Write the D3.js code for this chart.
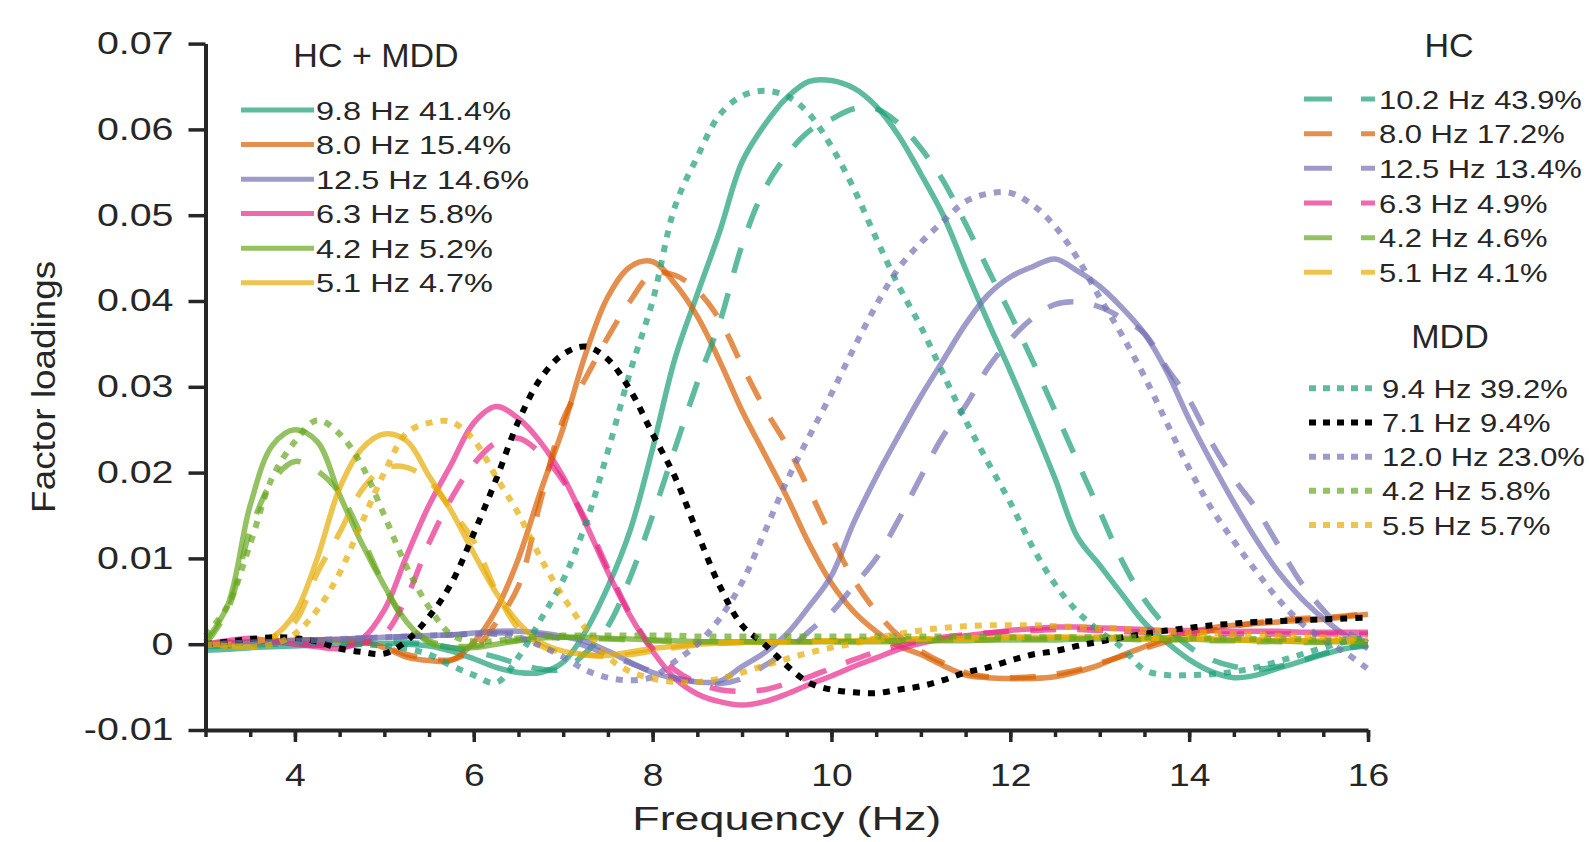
<!DOCTYPE html>
<html>
<head>
<meta charset="utf-8">
<script src="https://cdn.jsdelivr.net/npm/d3@7"></script>
<style>
body { margin: 0; background: #fff; }
text { font-family: "Liberation Sans", Arial, sans-serif; fill: #262626; }
</style>
</head>
<body>
<div id="chart"></div>
<script>
// frequency grid (Hz)
var freq = [3.00,3.25,3.50,3.75,4.00,4.25,4.50,4.75,5.00,5.25,5.50,5.75,6.00,6.25,6.50,6.75,7.00,7.25,7.50,7.75,8.00,8.25,8.50,8.75,9.00,9.25,9.50,9.75,10.00,10.25,10.50,10.75,11.00,11.25,11.50,11.75,12.00,12.25,12.50,12.75,13.00,13.25,13.50,13.75,14.00,14.25,14.50,14.75,15.00,15.25,15.50,15.75,16.00];

// HC + MDD (solid)
var all98 = [-0.0007,-0.0006,-0.0004,-0.0003,-0.0002,-0.0001,0.0000,0.0001,0.0001,0.0000,-0.0002,-0.0008,-0.0017,-0.0027,-0.0033,-0.0033,-0.0021,0.0015,0.0067,0.0133,0.0228,0.0333,0.0408,0.0481,0.0562,0.0605,0.0637,0.0656,0.0657,0.0648,0.0627,0.0593,0.0548,0.0500,0.0437,0.0376,0.0318,0.0257,0.0193,0.0125,0.0092,0.0058,0.0025,0.0002,-0.0018,-0.0032,-0.0039,-0.0036,-0.0028,-0.0020,-0.0012,-0.0005,-0.0002];
var all80 = [0.0000,0.0002,0.0003,0.0004,0.0005,0.0005,0.0005,0.0003,-0.0004,-0.0015,-0.0019,-0.0019,0.0002,0.0040,0.0100,0.0179,0.0252,0.0338,0.0405,0.0440,0.0446,0.0420,0.0382,0.0330,0.0272,0.0222,0.0172,0.0117,0.0071,0.0038,0.0015,-0.0002,-0.0012,-0.0025,-0.0036,-0.0039,-0.0040,-0.0040,-0.0038,-0.0032,-0.0024,-0.0013,-0.0003,0.0007,0.0014,0.0019,0.0022,0.0024,0.0026,0.0028,0.0029,0.0032,0.0035];
var all125 = [0.0000,0.0001,0.0002,0.0003,0.0004,0.0005,0.0006,0.0007,0.0008,0.0009,0.0010,0.0011,0.0013,0.0015,0.0015,0.0013,0.0009,0.0003,-0.0008,-0.0021,-0.0033,-0.0040,-0.0044,-0.0043,-0.0026,-0.0010,0.0012,0.0044,0.0080,0.0142,0.0195,0.0243,0.0289,0.0331,0.0373,0.0407,0.0428,0.0440,0.0449,0.0435,0.0417,0.0392,0.0362,0.0318,0.0262,0.0212,0.0165,0.0122,0.0084,0.0054,0.0030,0.0010,-0.0005];
var all63 = [0.0000,0.0004,0.0007,0.0003,0.0000,-0.0003,-0.0005,0.0006,0.0040,0.0103,0.0162,0.0210,0.0258,0.0277,0.0263,0.0235,0.0195,0.0141,0.0084,0.0033,-0.0008,-0.0040,-0.0058,-0.0067,-0.0071,-0.0067,-0.0058,-0.0047,-0.0037,-0.0026,-0.0016,-0.0006,0.0001,0.0006,0.0010,0.0013,0.0016,0.0018,0.0020,0.0020,0.0019,0.0018,0.0017,0.0016,0.0016,0.0016,0.0015,0.0015,0.0015,0.0014,0.0014,0.0014,0.0014];
var all42 = [0.0003,0.0046,0.0162,0.0232,0.0250,0.0236,0.0174,0.0117,0.0068,0.0026,0.0002,-0.0004,-0.0004,0.0000,0.0004,0.0007,0.0008,0.0008,0.0007,0.0006,0.0005,0.0004,0.0003,0.0003,0.0003,0.0003,0.0003,0.0003,0.0003,0.0003,0.0003,0.0003,0.0004,0.0004,0.0004,0.0005,0.0005,0.0005,0.0005,0.0006,0.0006,0.0006,0.0006,0.0006,0.0006,0.0005,0.0005,0.0004,0.0004,0.0003,0.0003,0.0003,0.0003];
var all51 = [0.0000,-0.0002,-0.0003,0.0008,0.0036,0.0100,0.0182,0.0228,0.0245,0.0237,0.0196,0.0155,0.0106,0.0060,0.0025,0.0002,-0.0008,-0.0012,-0.0013,-0.0009,-0.0005,-0.0002,0.0000,0.0001,0.0002,0.0002,0.0003,0.0003,0.0004,0.0004,0.0005,0.0005,0.0006,0.0006,0.0007,0.0007,0.0008,0.0008,0.0008,0.0008,0.0008,0.0008,0.0007,0.0007,0.0006,0.0006,0.0005,0.0005,0.0004,0.0004,0.0004,0.0003,0.0003];

// HC (dashed)
var hc102 = [-0.0003,-0.0002,-0.0001,0.0000,0.0001,0.0002,0.0002,0.0003,0.0003,0.0002,0.0000,-0.0004,-0.0009,-0.0015,-0.0023,-0.0029,-0.0029,-0.0010,0.0021,0.0078,0.0150,0.0228,0.0305,0.0375,0.0465,0.0530,0.0570,0.0598,0.0612,0.0624,0.0624,0.0607,0.0578,0.0540,0.0490,0.0437,0.0385,0.0330,0.0272,0.0213,0.0155,0.0097,0.0052,0.0020,-0.0003,-0.0018,-0.0026,-0.0029,-0.0026,-0.0019,-0.0011,-0.0005,0.0000];
var hc80 = [0.0000,0.0002,0.0003,0.0004,0.0005,0.0005,0.0005,0.0003,-0.0003,-0.0012,-0.0017,-0.0018,-0.0006,0.0025,0.0068,0.0168,0.0262,0.0310,0.0358,0.0400,0.0432,0.0430,0.0412,0.0378,0.0325,0.0275,0.0232,0.0180,0.0125,0.0075,0.0038,0.0010,-0.0008,-0.0022,-0.0033,-0.0038,-0.0039,-0.0038,-0.0035,-0.0030,-0.0022,-0.0014,-0.0005,0.0003,0.0010,0.0016,0.0021,0.0025,0.0028,0.0030,0.0031,0.0033,0.0036];
var hc125 = [0.0000,0.0001,0.0002,0.0003,0.0004,0.0005,0.0006,0.0007,0.0008,0.0009,0.0010,0.0011,0.0012,0.0013,0.0013,0.0011,0.0006,-0.0002,-0.0012,-0.0022,-0.0032,-0.0039,-0.0044,-0.0046,-0.0040,-0.0025,-0.0008,0.0015,0.0037,0.0068,0.0100,0.0145,0.0195,0.0243,0.0278,0.0322,0.0355,0.0380,0.0396,0.0399,0.0393,0.0380,0.0362,0.0322,0.0285,0.0235,0.0193,0.0158,0.0115,0.0072,0.0040,0.0015,0.0002];
var hc63 = [0.0000,0.0002,0.0004,0.0003,0.0001,-0.0001,-0.0003,0.0001,0.0012,0.0055,0.0118,0.0170,0.0210,0.0235,0.0240,0.0222,0.0190,0.0145,0.0088,0.0035,-0.0005,-0.0030,-0.0045,-0.0053,-0.0055,-0.0053,-0.0046,-0.0038,-0.0028,-0.0018,-0.0009,-0.0002,0.0004,0.0008,0.0011,0.0013,0.0015,0.0016,0.0017,0.0017,0.0016,0.0015,0.0014,0.0013,0.0013,0.0012,0.0012,0.0012,0.0012,0.0012,0.0012,0.0012,0.0012];
var hc42 = [0.0000,0.0040,0.0132,0.0190,0.0213,0.0202,0.0176,0.0125,0.0068,0.0024,0.0004,-0.0002,-0.0002,0.0002,0.0005,0.0007,0.0008,0.0007,0.0006,0.0005,0.0004,0.0003,0.0003,0.0003,0.0003,0.0003,0.0003,0.0003,0.0003,0.0003,0.0004,0.0004,0.0004,0.0005,0.0005,0.0005,0.0006,0.0006,0.0006,0.0006,0.0006,0.0006,0.0005,0.0005,0.0005,0.0004,0.0004,0.0003,0.0003,0.0002,0.0002,0.0002,0.0002];
var hc51 = [0.0000,0.0000,0.0002,0.0008,0.0026,0.0083,0.0130,0.0180,0.0205,0.0206,0.0190,0.0156,0.0120,0.0062,0.0018,-0.0002,-0.0010,-0.0013,-0.0014,-0.0012,-0.0008,-0.0004,-0.0001,0.0001,0.0002,0.0003,0.0003,0.0004,0.0004,0.0005,0.0005,0.0006,0.0006,0.0007,0.0007,0.0008,0.0008,0.0008,0.0008,0.0008,0.0008,0.0007,0.0007,0.0007,0.0006,0.0006,0.0005,0.0005,0.0005,0.0004,0.0004,0.0004,0.0004];

// MDD (dotted)
var mdd94 = [0.0000,0.0001,0.0002,0.0003,0.0003,0.0002,0.0001,0.0000,-0.0002,-0.0005,-0.0012,-0.0025,-0.0036,-0.0045,-0.0015,0.0029,0.0075,0.0140,0.0225,0.0318,0.0400,0.0510,0.0568,0.0617,0.0639,0.0645,0.0639,0.0618,0.0580,0.0531,0.0473,0.0418,0.0370,0.0315,0.0261,0.0212,0.0165,0.0113,0.0070,0.0038,0.0015,-0.0004,-0.0030,-0.0036,-0.0036,-0.0035,-0.0032,-0.0027,-0.0020,-0.0012,-0.0004,0.0003,0.0009];
var mdd71 = [0.0000,0.0003,0.0006,0.0008,0.0007,0.0003,-0.0005,-0.0009,-0.0011,0.0004,0.0032,0.0071,0.0129,0.0192,0.0260,0.0310,0.0338,0.0347,0.0332,0.0296,0.0245,0.0195,0.0130,0.0068,0.0022,0.0000,-0.0025,-0.0045,-0.0053,-0.0056,-0.0057,-0.0053,-0.0049,-0.0042,-0.0033,-0.0027,-0.0019,-0.0012,-0.0008,-0.0002,0.0003,0.0008,0.0012,0.0016,0.0019,0.0022,0.0024,0.0026,0.0027,0.0028,0.0029,0.0030,0.0031];
var mdd120 = [0.0000,0.0001,0.0002,0.0003,0.0004,0.0005,0.0006,0.0007,0.0008,0.0009,0.0010,0.0011,0.0012,0.0012,0.0008,-0.0002,-0.0015,-0.0030,-0.0039,-0.0042,-0.0038,-0.0020,0.0000,0.0030,0.0072,0.0130,0.0190,0.0242,0.0292,0.0345,0.0395,0.0438,0.0468,0.0493,0.0516,0.0525,0.0526,0.0512,0.0487,0.0450,0.0404,0.0360,0.0312,0.0258,0.0205,0.0158,0.0120,0.0085,0.0052,0.0025,0.0006,-0.0010,-0.0029];
var mdd42 = [0.0010,0.0045,0.0117,0.0195,0.0236,0.0261,0.0245,0.0208,0.0150,0.0090,0.0043,0.0011,0.0003,0.0004,0.0007,0.0009,0.0010,0.0010,0.0010,0.0010,0.0010,0.0010,0.0009,0.0009,0.0009,0.0009,0.0009,0.0009,0.0009,0.0009,0.0009,0.0009,0.0009,0.0009,0.0009,0.0009,0.0008,0.0008,0.0008,0.0008,0.0008,0.0008,0.0008,0.0007,0.0007,0.0007,0.0007,0.0006,0.0006,0.0006,0.0005,0.0005,0.0005];
var mdd55 = [0.0000,-0.0002,-0.0003,0.0000,0.0012,0.0040,0.0083,0.0142,0.0200,0.0246,0.0258,0.0259,0.0238,0.0195,0.0152,0.0100,0.0055,0.0018,-0.0015,-0.0032,-0.0040,-0.0044,-0.0044,-0.0040,-0.0033,-0.0025,-0.0017,-0.0010,-0.0004,0.0001,0.0007,0.0012,0.0016,0.0019,0.0021,0.0022,0.0022,0.0022,0.0021,0.0020,0.0019,0.0018,0.0016,0.0015,0.0014,0.0013,0.0012,0.0011,0.0010,0.0009,0.0008,0.0007,0.0006];

var labelsAll = ["9.8 Hz 41.4%","8.0 Hz 15.4%","12.5 Hz 14.6%","6.3 Hz 5.8%","4.2 Hz 5.2%","5.1 Hz 4.7%"];
var labelsHC  = ["10.2 Hz 43.9%","8.0 Hz 17.2%","12.5 Hz 13.4%","6.3 Hz 4.9%","4.2 Hz 4.6%","5.1 Hz 4.1%"];
var labelsMDD = ["9.4 Hz 39.2%","7.1 Hz 9.4%","12.0 Hz 23.0%","4.2 Hz 5.8%","5.5 Hz 5.7%"];

var yTicks = [-0.01,0,0.01,0.02,0.03,0.04,0.05,0.06,0.07];
var xTicks = [4,6,8,10,12,14,16];
var xMinor = [3,3.5,4,4.5,5,5.5,6,6.5,7,7.5,8,8.5,9,9.5,10,10.5,11,11.5,12,12.5,13,13.5,14,14.5,15,15.5,16];

// Dark2
var teal = "#1b9e77", orange = "#d95f02", purple = "#7570b3", pink = "#e7298a", green = "#66a61e", yellow = "#e6ab02";

var seriesAll = [
  {v: all98, c: teal}, {v: all80, c: orange}, {v: all125, c: purple},
  {v: all63, c: pink}, {v: all42, c: green}, {v: all51, c: yellow}];
var seriesHC = [
  {v: hc102, c: teal}, {v: hc80, c: orange}, {v: hc125, c: purple},
  {v: hc63, c: pink}, {v: hc42, c: green}, {v: hc51, c: yellow}];
var seriesMDD = [
  {v: mdd94, c: teal, o: 0.7}, {v: mdd71, c: "#000", o: 1}, {v: mdd120, c: purple, o: 0.7},
  {v: mdd42, c: green, o: 0.7}, {v: mdd55, c: yellow, o: 0.7}];

var W = 1589, H = 842;
var axisColor = "#262626";
var font = "'Liberation Sans', Arial, sans-serif";

var svg = d3.select("#chart").append("svg")
    .attr("width", W)
    .attr("height", H);
svg.append("rect").attr("width", W).attr("height", H).attr("fill", "#fff");

var x = d3.scaleLinear().domain([3, 16]).range([205.5, 1368]);
var y = d3.scaleLinear().domain([-0.01, 0.07]).range([730, 43.6]);

var line = d3.line()
    .x(function(d, i) { return x(freq[i]); })
    .y(function(d) { return y(d); })
    .curve(d3.curveCatmullRom);

var plot = svg.append("g");

plot.selectAll(".solid").data(seriesAll).enter().append("path")
    .attr("class", "solid")
    .attr("d", function(d) { return line(d.v); })
    .attr("fill", "none")
    .attr("stroke", function(d) { return d.c; })
    .attr("stroke-opacity", 0.7)
    .attr("stroke-width", 5.5);

plot.selectAll(".dashed").data(seriesHC).enter().append("path")
    .attr("class", "dashed")
    .attr("d", function(d) { return line(d.v); })
    .attr("fill", "none")
    .attr("stroke", function(d) { return d.c; })
    .attr("stroke-opacity", 0.7)
    .attr("stroke-width", 5.5)
    .attr("stroke-dasharray", "26,21");

plot.selectAll(".dotted").data(seriesMDD).enter().append("path")
    .attr("class", "dotted")
    .attr("d", function(d) { return line(d.v); })
    .attr("fill", "none")
    .attr("stroke", function(d) { return d.c; })
    .attr("stroke-opacity", function(d) { return d.o; })
    .attr("stroke-width", 6)
    .attr("stroke-dasharray", "7,8");

// axes
var yAxis = svg.append("g")
    .attr("transform", "translate(" + x(3) + ",0)")
    .call(d3.axisLeft(y).tickValues(yTicks).tickSize(17).tickPadding(15).tickSizeOuter(0)
      .tickFormat(function(d) { return d === 0 ? "0" : d.toFixed(2); }));
yAxis.select(".domain").attr("stroke", axisColor).attr("stroke-width", 4);
yAxis.selectAll(".tick line").attr("stroke", axisColor).attr("stroke-width", 3.5);
yAxis.selectAll(".tick text")
    .attr("font-family", font).attr("font-size", 31).attr("fill", axisColor)
    .attr("x", -32 / 1.27)
    .attr("transform", "scale(1.27,1)");

var xMinorAxis = svg.append("g")
    .attr("transform", "translate(0," + y(-0.01) + ")")
    .call(d3.axisBottom(x).tickValues(xMinor).tickSize(7).tickSizeOuter(0).tickFormat(""));
xMinorAxis.select(".domain").attr("stroke", axisColor).attr("stroke-width", 4);
xMinorAxis.selectAll(".tick line").attr("stroke", axisColor).attr("stroke-width", 3.5);

var xAxis = svg.append("g")
    .attr("transform", "translate(0," + y(-0.01) + ")")
    .call(d3.axisBottom(x).tickValues(xTicks).tickSize(12).tickPadding(22).tickSizeOuter(0));
xAxis.select(".domain").remove();
xAxis.selectAll(".tick line").attr("stroke", axisColor).attr("stroke-width", 3.5);
xAxis.selectAll(".tick text")
    .attr("font-family", font).attr("font-size", 31).attr("fill", axisColor)
    .attr("transform", "scale(1.2,1)");

svg.append("text")
    .attr("transform", "translate(" + ((x(3) + x(16)) / 2) + ",830) scale(1.38,1)")
    .attr("text-anchor", "middle")
    .attr("font-size", 32.5)
    .text("Frequency (Hz)");

svg.append("text")
    .attr("transform", "translate(55," + ((y(-0.01) + y(0.07)) / 2) + ") rotate(-90) scale(1.085,1)")
    .attr("text-anchor", "middle")
    .attr("font-size", 34)
    .text("Factor loadings");

// legends
function legendTitle(txt, cx, base) {
  svg.append("text")
      .attr("x", cx).attr("y", base)
      .attr("text-anchor", "middle")
      .attr("font-size", 34)
      .attr("fill", "#000")
      .text(txt);
}

function legendRows(labels, series, rowY, x0, x1, tx, dash, dashW, sx) {
  var g = svg.append("g");
  var row = g.selectAll("g").data(labels).enter().append("g")
      .attr("transform", function(d, i) { return "translate(0," + rowY[i] + ")"; });
  row.append("line")
      .attr("x1", x0).attr("x2", x1)
      .attr("stroke", function(d, i) { return series[i].c; })
      .attr("stroke-opacity", function(d, i) { return series[i].o || 0.7; })
      .attr("stroke-width", dashW)
      .attr("stroke-dasharray", dash);
  row.append("text")
      .attr("transform", "translate(" + tx + ",9.5) scale(" + sx + ",1)")
      .attr("font-size", 26)
      .text(function(d) { return d; });
}

legendTitle("HC + MDD", 376, 66.5);
legendRows(labelsAll, seriesAll, [110, 144.5, 179.2, 213.6, 248.2, 282.7], 241, 314, 316, null, 5, 1.25);

legendTitle("HC", 1449, 57);
legendRows(labelsHC, seriesHC, [99, 133.7, 168.3, 203, 237.7, 272.3], 1304, 1375, 1379, "28,29", 5, 1.19);

legendTitle("MDD", 1450, 347.5);
legendRows(labelsMDD, seriesMDD, [388.3, 422.5, 456.7, 490.8, 525], 1309, 1372, 1382, "7,7", 6, 1.19);
</script>
</body>
</html>
